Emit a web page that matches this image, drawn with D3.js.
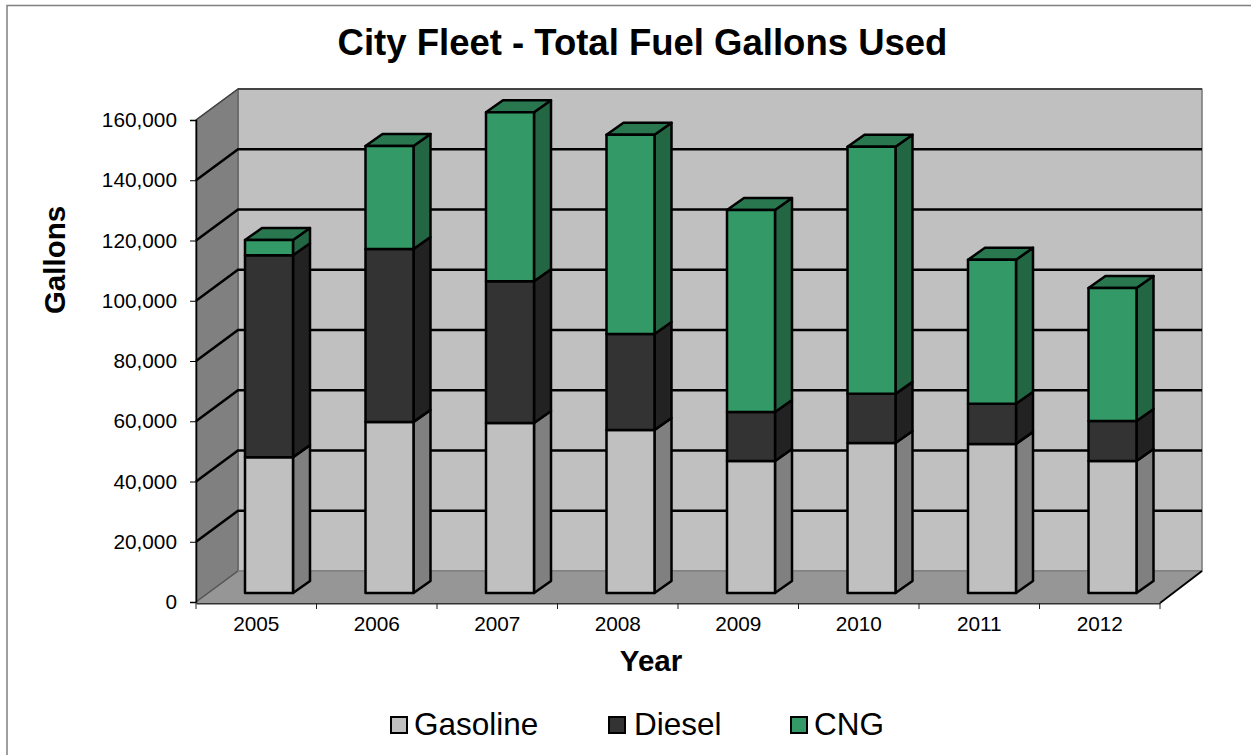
<!DOCTYPE html>
<html><head><meta charset="utf-8">
<script src="https://cdnjs.cloudflare.com/ajax/libs/d3/7.8.5/d3.min.js"></script>
<style>html,body{margin:0;padding:0;background:#fff;overflow:hidden}svg{display:block}text{font-family:"Liberation Sans",Arial,sans-serif;fill:#000}</style>
</head><body><svg id="c" width="1251" height="755"></svg>
<script>
const years=["2005","2006","2007","2008","2009","2010","2011","2012"];
const gasoline=[45100,56800,56400,54100,43800,49800,49500,43800];
const diesel=[67050,57400,47100,31900,16300,16300,13300,13300];
const cng=[5000,34200,56100,66100,67050,82000,47800,44150];
const seriesNames=["Gasoline","Diesel","CNG"];
const yTicks=[0,20000,40000,60000,80000,100000,120000,140000,160000];

const colors={Gasoline:{f:"#C0C0C0",s:"#808080",t:"#999999"},Diesel:{f:"#333333",s:"#222222",t:"#2a2a2a"},CNG:{f:"#339966",s:"#226644",t:"#28774f"}};
const svg=d3.select("#c");
const L=196,R=1160,B=602,T=120,DX=42,DY=-31;
const y=d3.scaleLinear().domain([0,160000]).range([B,T]);
const x=d3.scaleBand().domain(years).range([L,R]);
svg.append("path").attr("d","M7,755V5.5H1251").attr("fill","none").attr("stroke","#808080").attr("stroke-width",1.5);

const poly=(pts,fill,stroke,sw)=>svg.append("polygon").attr("points",pts.map(p=>p.join(",")).join(" ")).attr("fill",fill).attr("stroke",stroke||"none").attr("stroke-width",sw||0).attr("stroke-linejoin","round");
// walls
poly([[L+DX,T+DY],[R+DX,T+DY],[R+DX,B+DY],[L+DX,B+DY]],"#C0C0C0","#777",1.5);
poly([[L,T],[L+DX,T+DY],[L+DX,B+DY],[L,B]],"#808080","#666",1.5);
poly([[L,B],[L+DX,B+DY],[R+DX,B+DY],[R,B]],"#969696");
svg.append("line").attr("x1",L+DX).attr("x2",R+DX).attr("y1",B+DY).attr("y2",B+DY).attr("stroke","#808080").attr("stroke-width",1.5);
svg.append("line").attr("x1",L).attr("y1",B).attr("x2",L+DX).attr("y2",B+DY).attr("stroke","#555").attr("stroke-width",1.5);
svg.append("line").attr("x1",R).attr("y1",B+1).attr("x2",R+DX).attr("y2",B+DY).attr("stroke","#000").attr("stroke-width",2);
svg.append("line").attr("x1",L+DX).attr("x2",R+DX).attr("y1",T+DY).attr("y2",T+DY).attr("stroke","#444").attr("stroke-width",2);
svg.append("line").attr("x1",L).attr("y1",T).attr("x2",L+DX).attr("y2",T+DY).attr("stroke","#444").attr("stroke-width",1.5);
// gridlines
const grid=svg.append("g").attr("fill","none").attr("stroke","#000").attr("stroke-width",2.5);
grid.selectAll("path").data(yTicks.filter(d=>d>0&&d<160000)).join("path")
 .attr("d",d=>`M${L},${y(d)}L${L+DX},${y(d)+DY}L${R+DX},${y(d)+DY}`);
// bars
const stack=d3.stack().keys(seriesNames).value((d,k)=>d[k]);
const rows=years.map((yr,i)=>({yr,Gasoline:gasoline[i],Diesel:diesel[i],CNG:cng[i]}));
const layers=stack(rows);
const barW=48,dx=17,dy=-12,barLift=9,barOff=(x.step()-barW)/2+12.75;
const gb=svg.append("g");
years.forEach((yr,i)=>{
 layers.forEach((ly,li)=>{
  const c=colors[ly.key],d=ly[i];
  const xl=x(yr)+barOff,xr=xl+barW,y0=y(d[0])-barLift,y1=y(d[1])-barLift;
  const g=gb.append("g").attr("stroke","#000").attr("stroke-width",2.5).attr("stroke-linejoin","round");
  g.append("polygon").attr("points",[[xr,y0],[xr+dx,y0+dy],[xr+dx,y1+dy],[xr,y1]].join(" ")).attr("fill",c.s);
  if(li===2) g.append("polygon").attr("points",[[xl,y1],[xl+dx,y1+dy],[xr+dx,y1+dy],[xr,y1]].join(" ")).attr("fill",c.t);
  g.append("rect").attr("x",xl).attr("y",y1).attr("width",barW).attr("height",y0-y1).attr("fill",c.f);
 });
});
// axes
const ay=svg.append("g").attr("transform",`translate(${L},0)`).call(d3.axisLeft(y).tickValues(yTicks).tickFormat(d3.format(",")).tickSize(6).tickPadding(13));
ay.selectAll("text").style("font-size","20.8px").attr("fill","#000");
ay.select(".domain").attr("stroke","#000").attr("stroke-width",1.5);
const ax=svg.append("g").attr("transform",`translate(0,${B+1})`).call(d3.axisBottom(x).tickSize(0).tickPadding(13));
ax.selectAll("text").style("font-size","20.8px").attr("fill","#000");
ax.select(".domain").attr("stroke","#333").attr("stroke-width",2);
svg.append("g").selectAll("line").data(d3.range(years.length+1)).join("line")
 .attr("x1",i=>L+i*x.step()).attr("x2",i=>L+i*x.step()).attr("y1",B+1).attr("y2",B+7).attr("stroke","#222").attr("stroke-width",1);
// titles
svg.append("text").attr("x",642.5).attr("y",55).attr("text-anchor","middle").style("font-size","36.5px").style("font-weight","bold").text("City Fleet - Total Fuel Gallons Used");
svg.append("text").attr("x",651).attr("y",671).attr("text-anchor","middle").style("font-size","29.5px").style("font-weight","bold").text("Year");
svg.append("text").attr("transform","translate(64.5,260) rotate(-90)").attr("text-anchor","middle").style("font-size","29.5px").style("font-weight","bold").text("Gallons");
// legend
const lgX=[391,609,791];
const lg=svg.append("g").selectAll("g").data(seriesNames).join("g").attr("transform",(d,i)=>`translate(${lgX[i]},0)`);
lg.append("rect").attr("x",0).attr("y",717).attr("width",16).attr("height",16).attr("fill",d=>colors[d].f).attr("stroke","#000").attr("stroke-width",2);
lg.append("text").attr("x",(d,i)=>[23,25,23][i]).attr("y",734.5).style("font-size","31.5px").text(d=>d);
</script></body></html>
